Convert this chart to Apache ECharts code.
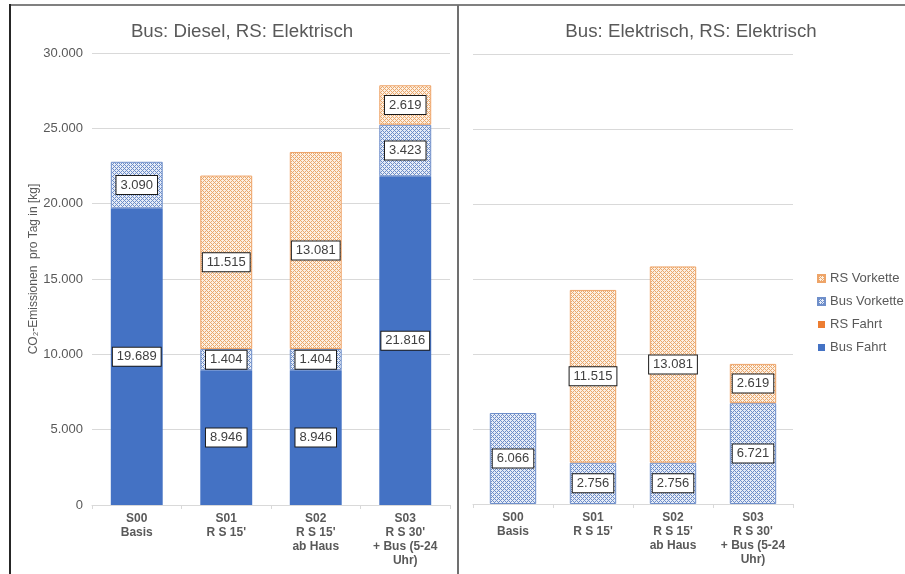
<!DOCTYPE html>
<html>
<head>
<meta charset="utf-8">
<script src="https://cdn.jsdelivr.net/npm/echarts@6/dist/echarts.min.js"></script>
<style>
  html, body { margin: 0; padding: 0; background: #fff; }
  #chart { width: 905px; height: 574px; }
</style>
</head>
<body>
<div id="chart"></div>
<script>
// Scenario categories shared by both panels
const categories = ['S00\nBasis', "S01\nR S 15'", "S02\nR S 15'\nab Haus", "S03\nR S 30'\n+ Bus (5-24\nUhr)"];

// Panel 1: diesel buses, electric ride sharing (kg CO2 per day)
const dieselBusFahrt     = [19689, 8946, 8946, 21816];
const dieselRsFahrt      = [0, 0, 0, 0];
const dieselBusVorkette  = [3090, 1404, 1404, 3423];
const dieselRsVorkette   = [0, 11515, 13081, 2619];

// Panel 2: electric buses, electric ride sharing (kg CO2 per day)
const elekBusFahrt       = [0, 0, 0, 0];
const elekRsFahrt        = [0, 0, 0, 0];
const elekBusVorkette    = [6066, 2756, 2756, 6721];
const elekRsVorkette     = [0, 11515, 13081, 2619];

// Value axis
const yMin = 0, yMax = 30000, yStep = 5000;

const seriesNames = ['Bus Fahrt', 'RS Fahrt', 'Bus Vorkette', 'RS Vorkette'];
const FONT = "'Liberation Sans', Arial, sans-serif";

// German number format: 19689 -> 19.689
function fmt(v) {
  return String(v).replace(/\B(?=(\d{3})+(?!\d))/g, '.');
}

// Small lattice tile used as a hatched fill
function makePattern(dark, light) {
  const c = document.createElement('canvas');
  c.width = 4; c.height = 4;
  const g = c.getContext('2d');
  g.fillStyle = light;
  g.fillRect(0, 0, 4, 4);
  g.fillStyle = dark;
  for (let y = 0; y < 4; y++) {
    for (let x = 0; x < 4; x++) {
      if ((x + y) % 4 === 0 || ((x - y) % 4 + 4) % 4 === 0) g.fillRect(x, y, 1, 1);
    }
  }
  return { image: c, repeat: 'repeat' };
}

const styles = {
  'Bus Fahrt':    { color: '#4472C4' },
  'RS Fahrt':     { color: '#ED7D31' },
  'Bus Vorkette': { color: makePattern('#6d8dc8', '#e6ecf7'), borderColor: '#6f8fca', borderWidth: 1 },
  'RS Vorkette':  { color: makePattern('#eaa86c', '#fcefe2'), borderColor: '#eea468', borderWidth: 1 }
};

const labelStyle = {
  show: true,
  position: 'inside',
  formatter: p => fmt(p.value),
  color: '#404040',
  fontFamily: FONT,
  fontSize: 13,
  backgroundColor: '#ffffff',
  borderColor: '#1a1a1a',
  borderWidth: 1,
  padding: [3, 4, 2, 4]
};

function toData(arr) {
  return arr.map(v => v === 0
    ? { value: 0, label: { show: false }, itemStyle: { borderWidth: 0 } }
    : v);
}

function makeSeries(arrays, axisIndex, stackName) {
  return arrays.map((arr, i) => ({
    name: seriesNames[i],
    type: 'bar',
    stack: stackName,
    xAxisIndex: axisIndex,
    yAxisIndex: axisIndex,
    barWidth: '58%',
    itemStyle: styles[seriesNames[i]],
    label: labelStyle,
    data: toData(arr)
  }));
}

const xLabel = {
  color: '#595959',
  fontFamily: FONT,
  fontSize: 12,
  fontWeight: 'bold',
  lineHeight: 14,
  margin: 7,
  interval: 0
};

function makeX(gridIndex) {
  return {
    type: 'category',
    gridIndex: gridIndex,
    data: categories,
    axisLine: { lineStyle: { color: '#d9d9d9' } },
    axisTick: { show: true, length: 4, lineStyle: { color: '#d9d9d9' } },
    axisLabel: xLabel
  };
}

function makeY(gridIndex, withLabels) {
  return {
    type: 'value',
    gridIndex: gridIndex,
    min: yMin, max: yMax, interval: yStep,
    axisLine: { show: false },
    axisTick: { show: false },
    splitLine: { lineStyle: { color: '#d9d9d9' } },
    axisLabel: {
      show: withLabels,
      formatter: v => fmt(v),
      color: '#595959',
      fontFamily: FONT,
      fontSize: 13,
      margin: 9
    },
    name: withLabels ? 'CO₂-Emissionen  pro Tag in [kg]' : '',
    nameLocation: 'middle',
    nameGap: 51,
    nameTextStyle: {
      color: '#595959',
      fontFamily: FONT,
      fontSize: 12,
      padding: [0, 0, 0, 20]
    }
  };
}

const chart = echarts.init(document.getElementById('chart'), null, { renderer: 'canvas' });

chart.setOption({
  animation: false,
  backgroundColor: '#ffffff',
  textStyle: { fontFamily: FONT },
  title: [
    {
      text: 'Bus: Diesel, RS: Elektrisch',
      left: 237, top: 17, textAlign: 'center',
      textStyle: { color: '#595959', fontFamily: FONT, fontSize: 18.7, fontWeight: 'normal' }
    },
    {
      text: 'Bus: Elektrisch, RS: Elektrisch',
      left: 686, top: 17, textAlign: 'center',
      textStyle: { color: '#595959', fontFamily: FONT, fontSize: 18.7, fontWeight: 'normal' }
    }
  ],
  legend: {
    orient: 'vertical',
    left: 812,
    top: 267,
    itemWidth: 7,
    itemHeight: 7,
    itemGap: 10,
    icon: 'rect',
    data: ['RS Vorkette', 'Bus Vorkette', 'RS Fahrt', 'Bus Fahrt'],
    textStyle: { color: '#595959', fontFamily: FONT, fontSize: 13, lineHeight: 13 }
  },
  grid: [
    { left: 92, right: 455, top: 53, bottom: 69 },
    { left: 473, right: 112, top: 54, bottom: 70 }
  ],
  xAxis: [makeX(0), makeX(1)],
  yAxis: [makeY(0, true), makeY(1, false)],
  series: [
    ...makeSeries([dieselBusFahrt, dieselRsFahrt, dieselBusVorkette, dieselRsVorkette], 0, 'diesel'),
    ...makeSeries([elekBusFahrt, elekRsFahrt, elekBusVorkette, elekRsVorkette], 1, 'elektrisch')
  ],
  graphic: [
    // frame around the two panels
    { type: 'line', shape: { x1: 9, y1: 5, x2: 905, y2: 5 }, style: { stroke: '#808080', lineWidth: 2 }, silent: true },
    { type: 'line', shape: { x1: 10, y1: 4, x2: 10, y2: 574 }, style: { stroke: '#262626', lineWidth: 2 }, silent: true },
    { type: 'line', shape: { x1: 458, y1: 5, x2: 458, y2: 574 }, style: { stroke: '#707070', lineWidth: 2 }, silent: true }
  ]
});
</script>
</body>
</html>
